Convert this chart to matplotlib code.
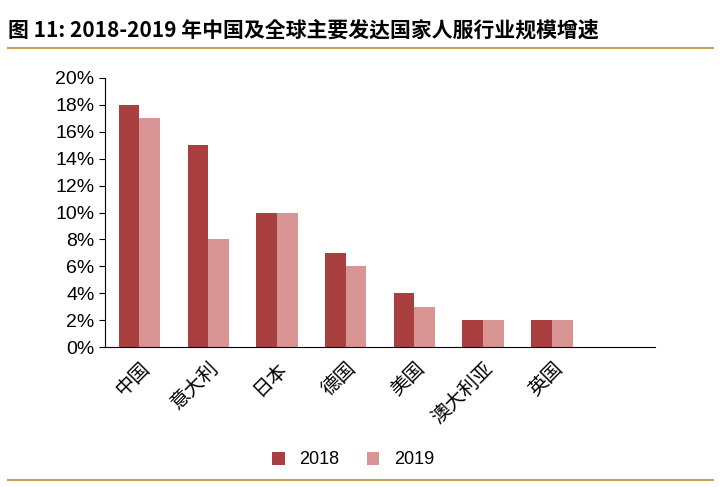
import matplotlib
matplotlib.use("Agg")
import matplotlib.pyplot as plt
import numpy as np

cjk = ["Noto Sans CJK SC", "Noto Sans CJK JP", "Noto Sans CJK TC", "Noto Sans CJK KR", "DejaVu Sans"]
plt.rcParams["font.family"] = ["Liberation Sans"] + cjk

categories = ["中国", "意大利", "日本", "德国", "美国", "澳大利亚", "英国"]
growth_2018 = [18, 15, 10, 7, 4, 2, 2]
growth_2019 = [17, 8, 10, 6, 3, 2, 2]

fig = plt.figure(figsize=(7.21, 4.87), dpi=100)
ax = fig.add_axes([105 / 721, 1 - 347 / 487, 550 / 721, 269 / 487])

x = np.arange(len(categories))
w = 0.3
ax.bar(x - w / 2, growth_2018, w, color="#A9403F", label="2018")
ax.bar(x + w / 2, growth_2019, w, color="#D99594", label="2019")

ax.set_xlim(-0.5, 7.5)
ax.set_ylim(0, 20)
ax.set_yticks(range(0, 21, 2))
ax.set_yticklabels([f"{v}%" for v in range(0, 21, 2)], fontsize=14)
ax.set_xticks(x)
ax.set_xticklabels(categories, rotation=45, ha="right", rotation_mode="anchor",
                   fontsize=14, fontfamily=cjk)
ax.tick_params(axis="x", length=0, pad=8)
ax.tick_params(axis="y", direction="out", length=4)
for s in ["top", "right"]:
    ax.spines[s].set_visible(False)

fig.legend(loc="center", bbox_to_anchor=(0.49, 1 - 460 / 487), ncol=2, frameon=False,
           fontsize=13, handlelength=0.7, handleheight=0.7, columnspacing=1.5)

fig.text(8 / 721, 1 - 30 / 487, "图 11: 2018-2019 年中国及全球主要发达国家人服行业规模增速",
         fontsize=15, fontweight="bold", fontfamily=cjk, va="center")
fig.add_artist(plt.Line2D([8 / 721, 713 / 721], [1 - 48 / 487] * 2, color="#C9A253", lw=1.5))
fig.add_artist(plt.Line2D([8 / 721, 713 / 721], [1 - 480 / 487] * 2, color="#C9A253", lw=1.5))

fig.savefig("out.png", dpi=100)
